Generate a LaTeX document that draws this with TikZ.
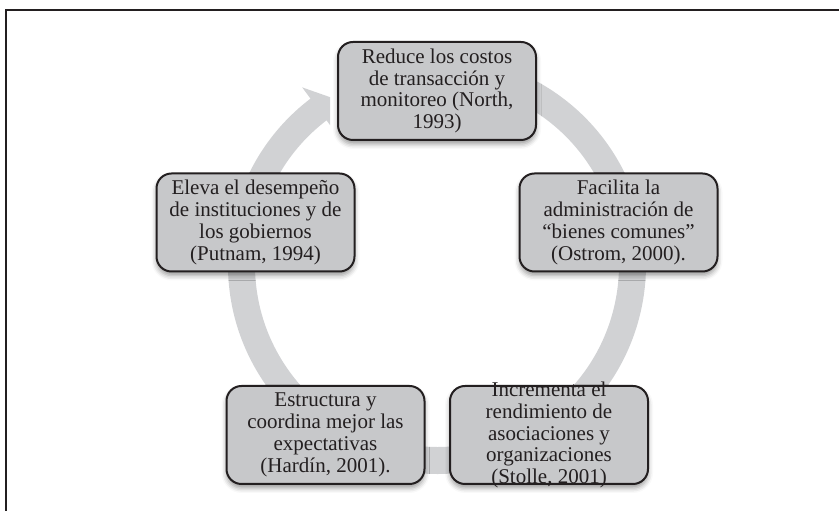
\documentclass[tikz,border=0pt]{standalone}
\usepackage{fontspec}
\setmainfont{Liberation Serif}
\usetikzlibrary{shadows.blur}
\definecolor{boxgray}{RGB}{199,200,202}
\definecolor{ringgray}{RGB}{209,210,212}
\definecolor{ink}{RGB}{35,31,32}
\tikzset{
  stepbox/.style={draw=ink, line width=2pt, fill=boxgray, rounded corners=15pt,
    minimum width=198pt, minimum height=98pt, inner sep=0pt,
    blur shadow={shadow xshift=0pt, shadow yshift=-4pt, shadow blur radius=5pt, shadow opacity=40}},
  boxtext/.style={align=center, text=ink, inner sep=0pt,
    font=\fontsize{21pt}{21.8pt}\selectfont},
  ring/.style={draw=ringgray, line width=27pt, line cap=butt},
  frameline/.style={draw=ink, line width=2pt}
}
\begin{document}
\begin{tikzpicture}[x=1pt,y=1pt]
\useasboundingbox (0,0) rectangle (839,511);
% frame
\coordinate (f1) at (6,0);
\coordinate (f2) at (6,501);
\coordinate (f3) at (839,501);
\draw[frameline] (f1) -- (f2) -- (f3);
% ring
\coordinate (c) at (437,246);
\draw[ring] ([shift={(127:195.5)}]c) arc[start angle=127, end angle=435, radius=195.5];
\fill[ringgray] ([shift={(127.2:223)}]c) -- ([shift={(122.5:199)}]c) -- ([shift={(127.4:176)}]c) -- cycle;
% boxes
\node[stepbox] (n1) at (437,420) {};
\node[stepbox] (n2) at (618.5,288.5) {};
\node[stepbox] (n3) at (549,76) {};
\node[stepbox] (n4) at (325.5,76) {};
\node[stepbox] (n5) at (255.5,288.5) {};
\node[boxtext] (t1) at (n1) {Reduce los costos\\de transacción y\\monitoreo (North,\\1993)};
\node[boxtext] (t2) at (n2) {Facilita la\\administración de\\“bienes comunes”\\(Ostrom, 2000).};
\node[boxtext] (t3) at (n3) {Incrementa el\\rendimiento de\\asociaciones y\\organizaciones\\(Stolle, 2001)};
\node[boxtext] (t4) at (n4) {Estructura y\\coordina mejor las\\expectativas\\(Hardín, 2001).};
\node[boxtext] (t5) at (n5) {Eleva el desempeño\\de instituciones y de\\los gobiernos\\(Putnam, 1994)};
\end{tikzpicture}
\end{document}
